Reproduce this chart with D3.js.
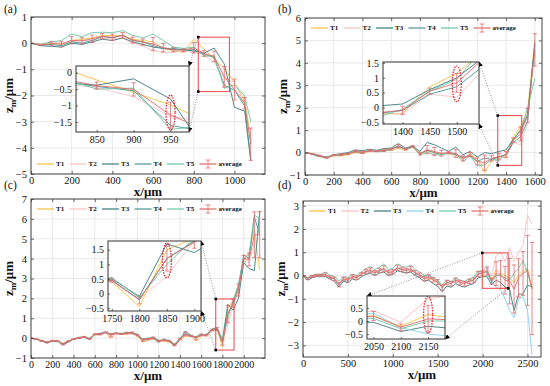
<!DOCTYPE html>
<html>
<head>
<meta charset="utf-8">
<script src="https://cdn.jsdelivr.net/npm/d3@7"></script>
<style>
  body { margin: 0; background: #fff; }
  svg { display: block; font-family: "Liberation Serif", "Times New Roman", serif; }
</style>
</head>
<body>
<svg id="fig" width="550" height="386"></svg>
<script>
const seriesNames = ["T1", "T2", "T3", "T4", "T5"];

// (a) profile, sampled every 50 um, last point near the edge
const xA = [0,50,100,150,200,250,300,350,400,450,500,550,600,650,700,750,800,850,900,950,1000,1050,1080];
const a_T1 = [0,-0.05,0.0,-0.05,0.1,0.15,0.2,0.3,0.28,0.3,0.15,0.1,0.05,-0.2,-0.3,-0.35,0.15,-0.22,-0.6,-0.98,-1.5,-2.2,-3.6];
const a_T2 = [0,-0.05,0.05,0.0,0.05,0.1,0.1,0.2,0.15,0.2,0.0,-0.1,-0.3,-0.35,-0.35,-0.3,-0.35,-0.45,-0.73,-1.33,-1.5,-2.3,-3.8];
const a_T3 = [0,-0.1,-0.12,-0.15,0.0,-0.05,0.05,0.15,0.1,0.2,0.05,-0.05,-0.15,-0.2,-0.25,-0.25,-0.3,-0.38,-0.19,-0.8,-2.45,-2.6,-4.5];
const a_T4 = [0,-0.08,-0.05,-0.1,0.05,0.0,0.1,0.25,0.2,0.3,0.1,0.05,-0.1,-0.2,-0.2,-0.25,-0.25,-0.42,-0.55,-1.6,-1.8,-2.4,-4.4];
const a_T5 = [0,-0.05,0.05,0.1,0.35,0.25,0.4,0.42,0.4,0.48,0.3,0.2,0.35,0.1,-0.15,-0.2,-0.15,-0.5,-0.47,-1.72,-1.6,-2.0,-3.0];

// (b)
const xB = d3.range(0, 1601, 50);
const b_T1 = [0,-0.05,-0.15,-0.25,-0.15,-0.15,-0.1,0.0,-0.05,0.05,0.05,0.1,0.1,0.2,0.1,0.25,-0.1,0.05,0.0,-0.05,-0.05,-0.1,-0.3,-0.05,-0.3,-0.9,-0.35,-0.2,-0.2,0.7,1.15,1.9,5.0];
const b_T2 = [0,-0.05,-0.1,-0.2,-0.1,-0.1,-0.05,0.05,0.0,0.05,0.05,0.1,0.15,0.25,0.15,0.3,-0.05,0.05,0.0,-0.1,-0.05,-0.2,-0.3,-0.15,-0.45,-0.55,-0.3,-0.2,-0.22,0.45,0.35,1.3,4.9];
const b_T3 = [0,-0.08,-0.18,-0.22,-0.1,-0.05,0.0,0.12,0.08,0.15,0.1,0.18,0.2,0.4,0.2,0.3,0.05,0.45,0.35,0.2,0.05,0.25,-0.1,0.05,-0.2,0.0,-0.05,0.05,0.12,0.6,1.0,1.7,4.8];
const b_T4 = [0,-0.05,-0.15,-0.2,-0.12,-0.1,-0.05,0.05,0.0,0.1,0.05,0.08,0.15,0.3,0.15,0.25,-0.05,0.1,0.0,-0.1,0.0,-0.1,-0.2,-0.15,-0.4,-0.25,-0.3,-0.2,-0.1,0.45,0.7,1.4,4.9];
const b_T5 = [0,-0.05,-0.15,-0.25,-0.1,-0.1,-0.05,0.05,0.0,0.1,0.05,0.05,0.15,0.25,0.15,0.3,-0.1,0.0,-0.1,-0.1,0.0,-0.05,-0.4,-0.15,-0.6,-0.55,-0.3,-0.35,-0.05,0.55,0.95,2.0,3.3];

// (c)
const xC = d3.range(0, 2151, 50);
const c_T1 = [0,-0.05,-0.1,-0.2,-0.1,-0.15,-0.25,-0.15,-0.05,0.0,0.1,-0.05,0.15,0.2,0.3,0.0,0.25,0.2,0.2,0.25,0.1,-0.2,-0.1,-0.05,-0.15,-0.15,-0.2,-0.35,-0.1,0.1,0.1,-0.15,0.1,0.15,0.4,0.4,-0.45,1.5,1.9,2.6,3.9,4.3,5.5,3.4];
const c_T2 = [0,-0.05,-0.15,-0.2,-0.15,-0.15,-0.3,-0.15,-0.05,0.0,0.05,-0.05,0.2,0.15,0.25,0.15,0.2,0.2,0.25,0.2,0.15,-0.1,-0.05,0.0,-0.15,-0.1,-0.15,-0.3,-0.05,0.15,0.1,0.0,0.15,0.1,0.35,0.4,-0.2,0.6,1.8,2.2,4.1,3.8,4.8,5.0];
const c_T3 = [0,-0.05,-0.15,-0.25,-0.15,-0.15,-0.35,-0.2,-0.05,0.0,0.05,-0.05,0.2,0.2,0.3,0.2,0.25,0.2,0.3,0.25,0.15,-0.05,-0.05,0.0,-0.2,-0.05,-0.15,-0.4,-0.05,0.35,0.15,0.05,0.2,0.15,0.45,0.5,-0.1,1.7,1.4,2.0,3.8,3.5,3.4,6.4];
const c_T4 = [0,-0.05,-0.15,-0.2,-0.15,-0.15,-0.3,-0.15,-0.05,0.0,0.05,-0.05,0.2,0.2,0.3,0.2,0.25,0.2,0.25,0.3,0.15,-0.1,-0.05,0.05,-0.15,-0.1,-0.15,-0.35,-0.05,0.2,0.1,0.05,0.15,0.2,0.4,0.45,-0.2,1.2,1.8,2.6,4.2,4.0,6.1,5.2];
const c_T5 = [0,-0.05,-0.15,-0.2,-0.15,-0.15,-0.3,-0.15,-0.05,0.05,0.05,0.0,0.2,0.25,0.3,0.2,0.25,0.25,0.25,0.3,0.2,-0.05,0.0,0.05,-0.1,-0.1,-0.1,-0.3,0.0,0.25,0.15,0.05,0.2,0.15,0.45,0.55,-0.15,1.0,1.9,2.7,4.0,4.2,6.2,6.0];

// (d)
const xD = d3.range(0, 2551, 50);
const d_T1 = [0,-0.1,-0.05,0.0,0.0,0.05,-0.1,-0.15,-0.4,-0.15,-0.2,-0.05,-0.1,0.05,0.15,0.2,0.1,0.2,0.25,0.1,0.15,0.3,0.25,0.2,0.25,0.1,0.0,-0.15,-0.1,-0.2,-0.3,-0.5,-0.3,-0.35,-0.2,-0.3,-0.35,-0.25,-0.2,0.05,0.1,0.2,-0.2,0.25,0.1,0.0,-0.1,-0.3,0.0,0.2,0.3,-0.6];
const d_T2 = [0,-0.1,0.0,0.05,0.05,0.05,-0.05,-0.1,-0.35,-0.1,-0.15,0.0,-0.05,0.1,0.2,0.25,0.15,0.25,0.3,0.15,0.2,0.35,0.3,0.25,0.3,0.15,0.05,-0.1,-0.05,-0.15,-0.25,-0.45,-0.25,-0.3,-0.15,-0.25,-0.3,-0.2,-0.15,0.1,0.2,0.4,-0.05,0.85,1.0,0.6,1.2,0.6,1.0,1.3,2.6,2.2];
const d_T3 = [0,-0.2,-0.1,-0.05,-0.05,-0.05,-0.15,-0.25,-0.5,-0.25,-0.3,-0.15,-0.2,-0.05,0.05,0.1,0.0,0.1,0.15,0.0,0.05,0.2,0.15,0.1,0.15,0.0,-0.1,-0.25,-0.2,-0.35,-0.45,-0.7,-0.45,-0.5,-0.35,-0.45,-0.5,-0.4,-0.35,-0.1,-0.05,-0.05,-0.4,-0.2,-0.3,-0.5,-0.6,-1.5,-0.8,-0.8,-0.4,-0.5];
const d_T4 = [0,-0.15,-0.05,0.0,0.0,0.0,-0.1,-0.15,-0.45,-0.2,-0.25,-0.05,-0.1,0.05,0.15,0.2,0.1,0.2,0.25,0.1,0.15,0.3,0.25,0.2,0.25,0.1,0.0,-0.15,0.05,-0.1,-0.2,-0.55,-0.3,-0.35,-0.2,-0.3,-0.35,-0.25,-0.2,0.05,0.15,0.3,-0.25,-0.5,-0.6,-1.0,-1.5,-1.8,-1.0,-0.9,-1.5,-3.4];
const d_T5 = [0,-0.1,0.0,0.05,0.05,0.15,0.0,-0.05,-0.25,-0.05,-0.1,0.05,0.0,0.15,0.3,0.38,0.25,0.35,0.5,0.25,0.3,0.5,0.4,0.35,0.45,0.25,0.15,0.0,0.0,-0.1,-0.2,-0.4,-0.2,-0.25,-0.1,-0.2,-0.25,-0.15,-0.1,0.2,0.15,0.1,-0.3,0.0,0.0,-0.1,-0.2,0.1,0.3,0.65,0.1,-0.5];

const colorsABC = ["#f6c240", "#f8c2c2", "#3a7b7d", "#4b9592", "#68c6a4"];
const colorsD = ["#f6c240", "#f8bcbc", "#3a7b78", "#88cfe9", "#68c6a4"];
const avgColor = "#e06a6c";

const panels = [
  {
    key: "a", label: "(a)", labelPos: [4, 13], box: [31, 17, 265, 174],
    xs: xA, ys: [a_T1, a_T2, a_T3, a_T4, a_T5], colors: colorsABC,
    xDomain: [0, 1150], yDomain: [-5, 1],
    xTicks: [0, 200, 400, 600, 800, 1000], yTicks: [-5, -4, -3, -2, -1, 0, 1],
    legendAtBottom: true,
    rect: { x: [822, 975], y: [-1.85, 0.23] },
    inset: { box: [76, 66, 189, 132], x: [822, 975], y: [-1.8, 0.2],
             xTicks: [850, 900, 950], yTicks: [-1.5, -1, -0.5, 0],
             ellipse: [950, -1.74, -0.68] },
    links: [["lt", "rt"], ["lb", "rb"]]
  },
  {
    key: "b", label: "(b)", labelPos: [278, 13], box: [305, 18, 542, 175],
    xs: xB, ys: [b_T1, b_T2, b_T3, b_T4, b_T5], colors: colorsABC,
    xDomain: [0, 1650], yDomain: [-1, 6],
    xTicks: [0, 200, 400, 600, 800, 1000, 1200, 1400, 1600], yTicks: [-1, 0, 1, 2, 3, 4, 5, 6],
    legendAtBottom: false,
    rect: { x: [1342, 1509], y: [-0.57, 1.65] },
    inset: { box: [383, 62, 479, 124], x: [1364, 1541], y: [-0.55, 1.53],
             xTicks: [1400, 1450, 1500], yTicks: [-0.5, 0, 0.5, 1, 1.5],
             ellipse: [1500, 0.2, 1.4] },
    links: [["lt", "rt"], ["lb", "rb"]]
  },
  {
    key: "c", label: "(c)", labelPos: [4, 189], box: [31, 199, 265, 358],
    xs: xC, ys: [c_T1, c_T2, c_T3, c_T4, c_T5], colors: colorsABC,
    xDomain: [0, 2200], yDomain: [-1, 7],
    xTicks: [0, 200, 400, 600, 800, 1000, 1200, 1400, 1600, 1800, 2000], yTicks: [-1, 0, 1, 2, 3, 4, 5, 6, 7],
    legendAtBottom: false,
    rect: { x: [1737, 1909], y: [-0.6, 1.97] },
    inset: { box: [108, 241, 201, 311], x: [1743, 1912], y: [-0.6, 1.8],
             xTicks: [1750, 1800, 1850, 1900], yTicks: [-0.5, 0, 0.5, 1, 1.5],
             ellipse: [1850, 0.53, 1.73] },
    links: [["lt", "rt"], ["lb", "rb"]]
  },
  {
    key: "d", label: "(d)", labelPos: [278, 189], box: [303, 201, 541, 357],
    xs: xD, ys: [d_T1, d_T2, d_T3, d_T4, d_T5], colors: colorsD,
    xDomain: [0, 2650], yDomain: [-3.5, 3.2],
    xTicks: [0, 500, 1000, 1500, 2000, 2500], yTicks: [-3, -2, -1, 0, 1, 2, 3],
    legendAtBottom: false,
    rect: { x: [1996, 2284], y: [-0.55, 0.97] },
    inset: { box: [367, 296, 445, 339], x: [2038, 2181], y: [-0.69, 0.96],
             xTicks: [2050, 2100, 2150], yTicks: [-0.5, 0, 0.5],
             ellipse: [2150, -0.46, 0.94] },
    links: [["lt", "lt"], ["rb", "rb"]]
  }
];

const svg = d3.select("#fig");
const defs = svg.append("defs");
defs.append("marker")
  .attr("id", "arrow")
  .attr("viewBox", "0 0 6 6")
  .attr("refX", 5.5).attr("refY", 3)
  .attr("markerWidth", 5).attr("markerHeight", 5)
  .attr("markerUnits", "userSpaceOnUse")
  .attr("orient", "auto")
  .append("path").attr("d", "M0,0L6,3L0,6Z").attr("fill", "#000");

function meanSd(ys) {
  const avg = [], sd = [];
  ys[0].forEach((_, i) => {
    const col = ys.map(s => s[i]);
    avg.push(d3.mean(col));
    sd.push(d3.deviation(col));
  });
  return { avg, sd };
}

function styleAxis(sel, size) {
  sel.attr("font-family", null).attr("font-size", size);
  sel.select(".domain").remove();
  sel.selectAll(".tick line").attr("stroke", "#444").attr("stroke-width", 0.8);
  sel.selectAll(".tick text").attr("fill", "#111");
}

function drawSeries(target, p, x, y, stats, capHalf, width) {
  const line = d3.line().x((d, i) => x(p.xs[i])).y(d => y(d));
  target.selectAll("path.series").data(p.ys).join("path")
    .attr("class", "series")
    .attr("d", line)
    .attr("fill", "none")
    .attr("stroke", (d, i) => p.colors[i])
    .attr("stroke-width", width);

  target.append("path")
    .attr("d", line(stats.avg))
    .attr("fill", "none")
    .attr("stroke", avgColor)
    .attr("stroke-width", width);

  const bars = target.append("g").attr("stroke", avgColor).attr("stroke-width", 0.8);
  const idx = d3.range(stats.avg.length);
  bars.selectAll("line.v").data(idx).join("line").attr("class", "v")
    .attr("x1", i => x(p.xs[i])).attr("x2", i => x(p.xs[i]))
    .attr("y1", i => y(stats.avg[i] - stats.sd[i]))
    .attr("y2", i => y(stats.avg[i] + stats.sd[i]));
  [-1, 1].forEach(s => {
    bars.selectAll("line.c" + (s + 1)).data(idx).join("line").attr("class", "c" + (s + 1))
      .attr("x1", i => x(p.xs[i]) - capHalf).attr("x2", i => x(p.xs[i]) + capHalf)
      .attr("y1", i => y(stats.avg[i] + s * stats.sd[i]))
      .attr("y2", i => y(stats.avg[i] + s * stats.sd[i]));
  });
}

function drawLegend(g, p) {
  const [L, T, R, B] = p.box;
  const ly = p.legendAtBottom ? B - 10 : T + 10;
  const items = seriesNames.concat(["average"]);
  const lg = g.append("g").attr("font-size", 7).attr("font-weight", "bold");
  const item = lg.selectAll("g").data(items).join("g")
    .attr("transform", (d, i) => `translate(${L + 6 + i * 32.5},${ly})`);
  item.append("line")
    .attr("x1", 0).attr("x2", 17).attr("y1", 0).attr("y2", 0)
    .attr("stroke", (d, i) => i < 5 ? p.colors[i] : avgColor)
    .attr("stroke-width", 1.2);
  const eb = item.filter(d => d === "average").append("g").attr("stroke", avgColor).attr("stroke-width", 0.8);
  eb.append("line").attr("x1", 8.5).attr("x2", 8.5).attr("y1", -4).attr("y2", 4);
  eb.append("line").attr("x1", 6).attr("x2", 11).attr("y1", -4).attr("y2", -4);
  eb.append("line").attr("x1", 6).attr("x2", 11).attr("y1", 4).attr("y2", 4);
  item.append("text").attr("x", 19).attr("dy", "0.35em").attr("fill", "#111").text(d => d);
}

function corner(code, xr, yr) {
  return [code[0] === "l" ? xr[0] : xr[1], code[1] === "t" ? yr[0] : yr[1]];
}

function drawPanel(p) {
  const [L, T, R, B] = p.box;
  const x = d3.scaleLinear().domain(p.xDomain).range([L, R]);
  const y = d3.scaleLinear().domain(p.yDomain).range([B, T]);
  const stats = meanSd(p.ys);
  const g = svg.append("g");

  g.append("g").selectAll("line").data(p.xTicks).join("line")
    .attr("x1", d => x(d)).attr("x2", d => x(d)).attr("y1", T).attr("y2", B)
    .attr("stroke", "#e3e3e3").attr("stroke-width", 0.8);
  g.append("g").selectAll("line").data(p.yTicks).join("line")
    .attr("x1", L).attr("x2", R).attr("y1", d => y(d)).attr("y2", d => y(d))
    .attr("stroke", "#e3e3e3").attr("stroke-width", 0.8);

  defs.append("clipPath").attr("id", "clip-" + p.key)
    .append("rect").attr("x", L).attr("y", T).attr("width", R - L).attr("height", B - T);
  const plot = g.append("g").attr("clip-path", `url(#clip-${p.key})`);
  drawSeries(plot, p, x, y, stats, 2.2, 0.9);

  const fmt = d3.format("");
  g.append("g").attr("transform", `translate(0,${B})`)
    .call(d3.axisBottom(x).tickValues(p.xTicks).tickFormat(fmt).tickSize(-3).tickPadding(2.5))
    .call(styleAxis, p.key === "c" ? 10 : 10.5);
  g.append("g").attr("transform", `translate(${L},0)`)
    .call(d3.axisLeft(y).tickValues(p.yTicks).tickFormat(fmt).tickSize(-3).tickPadding(4))
    .call(styleAxis, 10.5);
  g.append("g").attr("transform", `translate(0,${T})`)
    .call(d3.axisTop(x).tickValues(p.xTicks).tickFormat("").tickSize(-3))
    .call(styleAxis, 10);
  g.append("g").attr("transform", `translate(${R},0)`)
    .call(d3.axisRight(y).tickValues(p.yTicks).tickFormat("").tickSize(-3))
    .call(styleAxis, 10);
  g.append("rect").attr("x", L).attr("y", T).attr("width", R - L).attr("height", B - T)
    .attr("fill", "none").attr("stroke", "#444").attr("stroke-width", 1);

  drawLegend(g, p);

  // titles
  g.append("text")
    .attr("x", (L + R) / 2).attr("y", B + 21.5)
    .attr("text-anchor", "middle").attr("font-weight", "bold").attr("font-size", 13)
    .attr("fill", "#111").text("x/μm");
  const yt = g.append("text")
    .attr("transform", `translate(${L - 18},${(T + B) / 2}) rotate(-90)`)
    .attr("text-anchor", "middle").attr("font-weight", "bold").attr("font-size", 13)
    .attr("fill", "#111");
  yt.append("tspan").text("z");
  yt.append("tspan").attr("font-size", 9).attr("dy", 3).text("m");
  yt.append("tspan").attr("dy", -3).text("/μm");
  g.append("text").attr("x", p.labelPos[0]).attr("y", p.labelPos[1])
    .attr("font-size", 11.5).attr("fill", "#111").text(p.label);

  // zoom rectangle and connectors
  const rx = [x(p.rect.x[0]), x(p.rect.x[1])];
  const ry = [y(p.rect.y[1]), y(p.rect.y[0])];
  g.append("rect").attr("x", rx[0]).attr("y", ry[0])
    .attr("width", rx[1] - rx[0]).attr("height", ry[1] - ry[0])
    .attr("fill", "none").attr("stroke", "#f04545").attr("stroke-width", 1);

  const ib = p.inset.box;
  const ixr = [ib[0], ib[2]], iyr = [ib[1], ib[3]];
  p.links.forEach(([from, to]) => {
    const a = corner(from, rx, ry), b = corner(to, ixr, iyr);
    g.append("line").attr("x1", a[0]).attr("y1", a[1]).attr("x2", b[0]).attr("y2", b[1])
      .attr("stroke", "#777").attr("stroke-width", 0.8).attr("stroke-dasharray", "1,1.6")
      .attr("marker-end", "url(#arrow)");
    g.append("rect").attr("x", a[0] - 1.3).attr("y", a[1] - 1.3).attr("width", 2.6).attr("height", 2.6).attr("fill", "#000");
  });

  drawInset(g, p, stats);
}

function drawInset(g, p, stats) {
  const inset = p.inset;
  const [L, T, R, B] = inset.box;
  const x = d3.scaleLinear().domain(inset.x).range([L, R]);
  const y = d3.scaleLinear().domain(inset.y).range([B, T]);
  const ig = g.append("g");
  ig.append("rect").attr("x", L).attr("y", T).attr("width", R - L).attr("height", B - T).attr("fill", "#fff");

  defs.append("clipPath").attr("id", "iclip-" + p.key)
    .append("rect").attr("x", L).attr("y", T).attr("width", R - L).attr("height", B - T);
  const plot = ig.append("g").attr("clip-path", `url(#iclip-${p.key})`);
  drawSeries(plot, p, x, y, stats, 2.2, 0.9);

  const fmt = d3.format("");
  ig.append("g").attr("transform", `translate(0,${B})`)
    .call(d3.axisBottom(x).tickValues(inset.xTicks).tickFormat(fmt).tickSize(-2).tickPadding(3.5))
    .call(styleAxis, 10);
  ig.append("g").attr("transform", `translate(${L},0)`)
    .call(d3.axisLeft(y).tickValues(inset.yTicks).tickFormat(fmt).tickSize(-2).tickPadding(4))
    .call(styleAxis, 10);
  ig.append("rect").attr("x", L).attr("y", T).attr("width", R - L).attr("height", B - T)
    .attr("fill", "none").attr("stroke", "#333").attr("stroke-width", 1);

  const [ex, ey0, ey1] = inset.ellipse;
  ig.append("ellipse")
    .attr("cx", x(ex)).attr("cy", (y(ey0) + y(ey1)) / 2)
    .attr("rx", 4.5).attr("ry", Math.abs(y(ey0) - y(ey1)) / 2)
    .attr("fill", "none").attr("stroke", "#e8202a").attr("stroke-width", 1.3)
    .attr("stroke-dasharray", "1.5,1.2");
}

panels.forEach(drawPanel);
</script>
</body>
</html>
